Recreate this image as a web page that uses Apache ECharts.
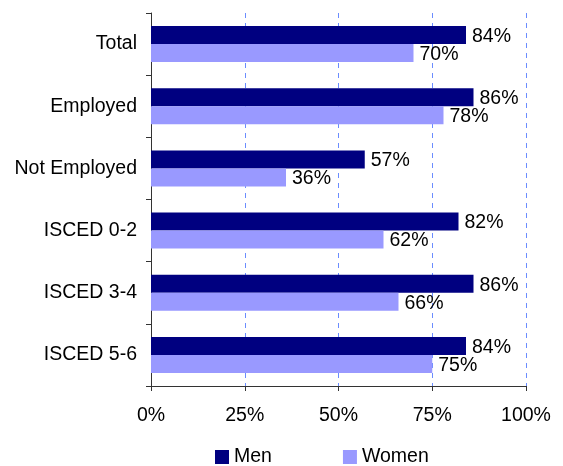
<!DOCTYPE html>
<html>
<head>
<meta charset="utf-8">
<script src="https://cdn.jsdelivr.net/npm/echarts@6/dist/echarts.min.js"></script>
<style>
html,body{margin:0;padding:0;background:#fff;}
#chart{width:563px;height:466px;}
</style>
</head>
<body>
<div id="chart"></div>
<script>
var categories = ['Total', 'Employed', 'Not Employed', 'ISCED 0-2', 'ISCED 3-4', 'ISCED 5-6'];
var menValues = [84, 86, 57, 82, 86, 84];
var womenValues = [70, 78, 36, 62, 66, 75];
var xTicks = [0, 25, 50, 75, 100];

var font = 'Liberation Sans, Arial, sans-serif';
var fs = 19.5;
var chart = echarts.init(document.getElementById('chart'), null, {renderer: 'canvas'});
chart.setOption({
  animation: false,
  backgroundColor: '#ffffff',
  textStyle: {fontFamily: font},
  grid: {left: 151, right: 37, top: 13, bottom: 80, containLabel: false},
  legend: {
    top: 447,
    left: 215,
    padding: 0,
    itemWidth: 14,
    itemHeight: 14,
    itemGap: 71,
    icon: 'rect',
    textStyle: {fontFamily: font, fontSize: fs, color: '#000'},
    data: ['Men', 'Women']
  },
  xAxis: {
    type: 'value',
    min: 0,
    max: 100,
    interval: 25,
    axisLine: {show: true, lineStyle: {color: '#333', width: 1}},
    axisTick: {show: true, length: 5, lineStyle: {color: '#333'}},
    axisLabel: {
      fontFamily: font, fontSize: fs, color: '#000', margin: 20,
      formatter: function (v) { return xTicks.indexOf(v) >= 0 ? v + '%' : ''; }
    },
    splitLine: {show: true, lineStyle: {color: '#6a8cff', type: [5, 5], width: 1}}
  },
  yAxis: {
    type: 'category',
    data: categories,
    inverse: true,
    axisLine: {show: true, lineStyle: {color: '#333', width: 1}},
    axisTick: {show: true, length: 5, inside: false, lineStyle: {color: '#333'}},
    axisLabel: {fontFamily: font, fontSize: fs, color: '#000', margin: 14},
    splitLine: {show: false}
  },
  series: [
    {
      name: 'Men',
      type: 'bar',
      data: menValues,
      barWidth: 18,
      barGap: '0%',
      itemStyle: {color: '#000080'},
      label: {show: true, position: 'right', distance: 6, formatter: '{c}%',
        fontFamily: font, fontSize: fs, color: '#000', offset: [0, 1.5]}
    },
    {
      name: 'Women',
      type: 'bar',
      data: womenValues,
      barWidth: 18,
      barGap: '0%',
      itemStyle: {color: '#9999ff'},
      label: {show: true, position: 'right', distance: 6, formatter: '{c}%',
        fontFamily: font, fontSize: fs, color: '#000', offset: [0, 1.5]}
    }
  ]
});
</script>
</body>
</html>
